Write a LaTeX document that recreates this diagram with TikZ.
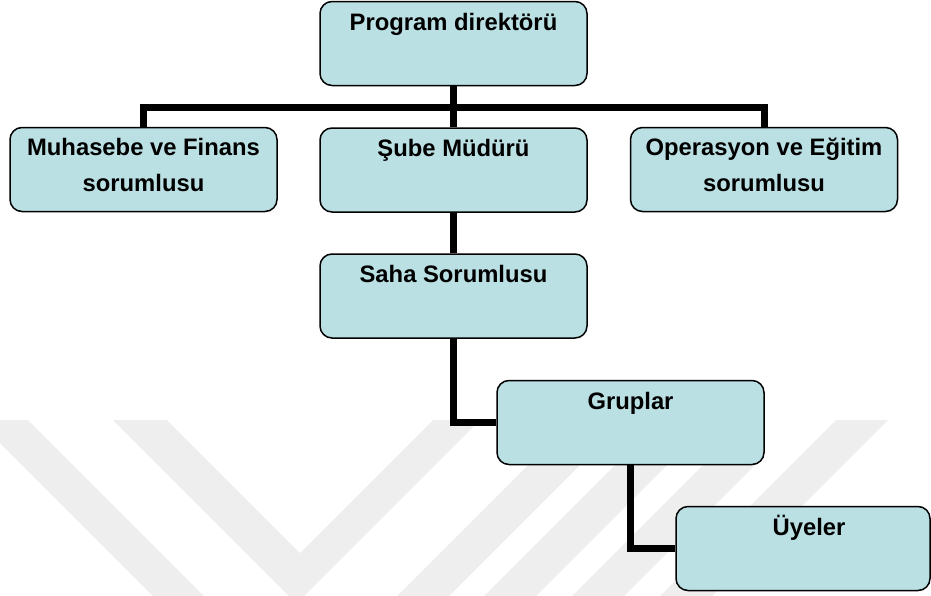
\documentclass[tikz,border=0pt]{standalone}
\usepackage{fontspec}
\setmainfont{Liberation Sans}
\usetikzlibrary{backgrounds}

\definecolor{boxfill}{RGB}{186,224,227}
\definecolor{markgray}{RGB}{238,238,238}

\tikzset{
  orgbox/.style={draw=black, line width=1.5pt, fill=boxfill, rounded corners=12pt,
                 minimum width=267pt, minimum height=84pt, inner sep=0pt},
  lbl/.style={font=\bfseries\fontsize{23.8}{36}\selectfont, align=center, inner sep=0pt, anchor=base},
  link/.style={draw=black, line width=7pt},
  band/.style={fill=markgray, draw=none}
}

\begin{document}
\begin{tikzpicture}[x=1pt, y=-1pt]
  \useasboundingbox (0,0) rectangle (931,595);

  % boxes
  \node[orgbox] (prog) at (453.5,43.5) {};
  \node[orgbox] (muh)  at (143.5,169.5) {};
  \node[orgbox] (sube) at (453.5,170) {};
  \node[orgbox] (ope)  at (764,169.5) {};
  \node[orgbox] (saha) at (453.5,296) {};
  \node[orgbox] (grup) at (630.5,422.5) {};
  \node[orgbox, minimum width=254pt] (uye) at (803,548.5) {};

  % labels (anchor base = baseline of the last line)
  \node[lbl] (tprog) at (453.5,30.5) {Program direktörü};
  \node[lbl] (tmuh)  at (143.5,191.5) {Muhasebe ve Finans\\sorumlusu};
  \node[lbl] (tsube) at (453.5,156.5) {Şube Müdürü};
  \node[lbl] (tope)  at (764,191.5) {Operasyon ve Eğitim\\sorumlusu};
  \node[lbl] (tsaha) at (453.5,282.5) {Saha Sorumlusu};
  \node[lbl] (tgrup) at (630.5,409.5) {Gruplar};
  \node[lbl] (tuye)  at (809,535.5) {Üyeler};

  \coordinate (bar) at (453.5,107);

  \begin{pgfonlayer}{background}
    % faint watermark stripes
    \begin{scope}
      \clip (0,420) rectangle (931,595);
      \fill[band] (-23,420) -- (28,420) -- (213,605) -- (162,605) -- cycle;
      \fill[band] (113,420) -- (296.5,603.5) -- (480,420) -- (433,420)
                  -- (300,553) -- (167,420) -- cycle;
      \fill[band] (553,440) -- (605,440) -- (445,600) -- (393,600) -- cycle;
      \fill[band] (640,440) -- (692,440) -- (532,600) -- (480,600) -- cycle;
      \fill[band] (703,465) -- (755,465) -- (620,600) -- (568,600) -- cycle;
      \fill[band] (836,420) -- (888,420) -- (708,600) -- (656,600) -- cycle;
    \end{scope}

    % connectors
    \draw[link] (prog.south) -- (bar);
    \draw[link] (muh.north) |- (bar) -| (ope.north);
    \draw[link] (bar) -- (sube.north);
    \draw[link] (sube.south) -- (saha.north);
    \draw[link] (saha.south) |- (grup.west);
    \draw[link] (grup.south) |- (uye.west);
  \end{pgfonlayer}
\end{tikzpicture}
\end{document}
